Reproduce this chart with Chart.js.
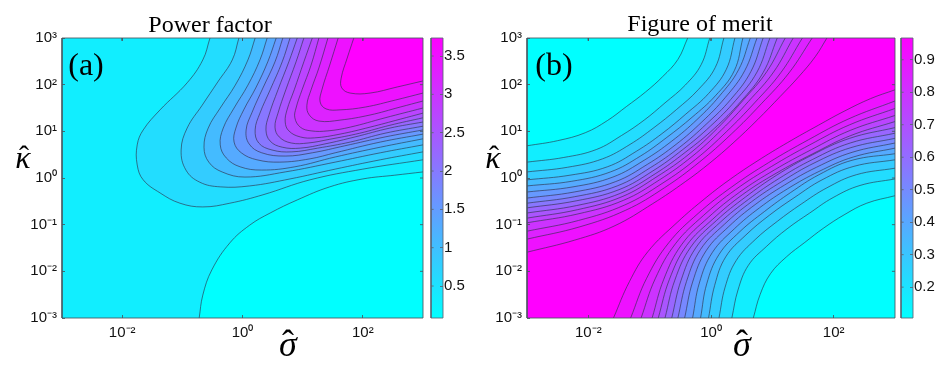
<!DOCTYPE html>
<html><head><meta charset="utf-8">
<style>
html,body{margin:0;padding:0;background:#fff;width:940px;height:365px;overflow:hidden}
.c{position:absolute;top:0}
canvas{display:block;filter:blur(0.35px)}
</style>
<script src="https://cdn.jsdelivr.net/npm/chart.js@4"></script>
</head><body>
<div class="c" style="left:0;width:428px;height:365px"><canvas id="pa" width="428" height="365"></canvas></div>
<div class="c" style="left:430px;width:40px;height:365px"><canvas id="ca" width="40" height="365"></canvas></div>
<div class="c" style="left:465px;width:435px;height:365px"><canvas id="pb" width="435" height="365"></canvas></div>
<div class="c" style="left:900px;width:40px;height:365px"><canvas id="cb" width="40" height="365"></canvas></div>
<script>
// All contour vertices are [log10(sigma), log10(kappa)].
const xTickExponents=[-2,0,2];
const yTickExponents=[-3,-2,-1,0,1,2,3];
const xTickLabels=['10⁻²','10⁰','10²'];
const yTickLabels=['10⁻³','10⁻²','10⁻¹','10⁰','10¹','10²','10³'];
const pfBarTicks=[0.5,1,1.5,2,2.5,3,3.5];
const pfBarRange=[0.083,3.735];
const fomBarTicks=[0.2,0.3,0.4,0.5,0.6,0.7,0.8,0.9];
const fomBarRange=[0.105,0.967];

// Power factor: contour 1 is the lower-right one, 2..15 are the nested U shapes.
const pf1=[[-.72,-3],[-.66,-2.51],[-.51,-1.97],[-.21,-1.39],[.12,-1.01],[.46,-.75],[.91,-.47],[1.45,-.19],[2,-.02],[2.53,.06],[3,.13]];
const pf2=[[-.54,3],[-.66,2.53],[-.92,2.04],[-1.37,1.46],[-1.65,1.03],[-1.75,.71],[-1.75,.28],[-1.65,-.04],[-1.37,-.32],[-1.04,-.54],[-.66,-.62],[-.21,-.54],[.34,-.36],[1.12,-.04],[2,.19],[3,.39]];
const pf3=[[-.06,3],[-.17,2.53],[-.41,2.06],[-.67,1.56],[-.92,1.07],[-1.02,.6],[-.94,.17],[-.71,-.09],[-.37,-.19],[.12,-.17],[.79,-.02],[1.54,.19],[2.29,.39],[3,.56]];
const pf4=[[.21,3],[.09,2.53],[-.12,1.99],[-.37,1.5],[-.57,1.07],[-.64,.66],[-.56,.34],[-.34,.13],[.04,.02],[.71,.13],[1.54,.34],[2.29,.54],[3,.71]];
const pf5=[[.41,3],[.29,2.53],[.09,1.99],[-.14,1.5],[-.32,1.07],[-.37,.71],[-.27,.43],[-.04,.24],[.32,.17],[.87,.24],[1.54,.45],[2.29,.66],[3,.84]];
const pf6=[[.56,3],[.42,2.49],[.22,1.93],[.02,1.46],[-.11,1.07],[-.14,.77],[-.02,.54],[.24,.39],[.62,.34],[1.12,.41],[1.54,.54],[2.29,.77],[3,.94]];
const pf7=[[.67,3],[.54,2.49],[.34,1.93],[.16,1.41],[.06,1.03],[.11,.73],[.32,.54],[.71,.47],[1.16,.54],[1.7,.69],[2.37,.88],[3,1.03]];
const pf8=[[.79,3],[.66,2.49],[.46,1.89],[.29,1.39],[.21,1.03],[.27,.75],[.49,.6],[.82,.56],[1.25,.64],[1.79,.77],[2.37,.96],[3,1.11]];
const pf9=[[.91,3],[.77,2.49],[.59,1.89],[.44,1.35],[.39,1.03],[.46,.79],[.66,.66],[.96,.64],[1.37,.73],[1.87,.88],[2.45,1.07],[3,1.2]];
const pf10=[[1.02,3],[.89,2.49],[.72,1.89],[.59,1.39],[.54,1.09],[.61,.88],[.81,.75],[1.09,.75],[1.45,.83],[1.95,.96],[2.45,1.13],[3,1.29]];
const pf11=[[1.16,3],[1.02,2.49],[.86,1.89],[.74,1.46],[.71,1.2],[.77,1.01],[.96,.88],[1.2,.86],[1.62,.94],[2.12,1.09],[2.62,1.26],[3,1.39]];
const pf12=[[1.27,3],[1.14,2.42],[.99,1.89],[.89,1.5],[.87,1.29],[.96,1.09],[1.14,1.01],[1.42,1.01],[1.79,1.09],[2.37,1.29],[3,1.5]];
const pf13=[[1.42,3],[1.27,2.36],[1.14,1.89],[1.07,1.56],[1.11,1.35],[1.27,1.22],[1.62,1.24],[2.12,1.35],[2.62,1.52],[3,1.65]];
const pf14=[[1.59,3],[1.45,2.42],[1.32,1.89],[1.29,1.63],[1.39,1.48],[1.62,1.46],[2.04,1.52],[2.54,1.67],[3,1.82]];
const pf15=[[1.85,3],[1.74,2.57],[1.64,2.14],[1.65,1.93],[1.79,1.82],[2.12,1.82],[2.57,1.95],[3,2.08]];

// Figure of merit: upper-left family, from the cyan corner inwards.
const fomU1=[[-3,.69],[-2.5,.8],[-2.05,.97],[-1.69,1.23],[-1.38,1.53],[-1.07,1.84],[-.79,2.17],[-.54,2.54],[-.38,3]];
const fomU2=[[-3,.34],[-2.4,.44],[-1.87,.61],[-1.46,.91],[-1.09,1.24],[-.75,1.61],[-.42,1.99],[-.16,2.43],[-.02,3]];
const fomU3=[[-3,.13],[-2.34,.23],[-1.77,.41],[-1.32,.72],[-.93,1.08],[-.56,1.47],[-.21,1.89],[.07,2.37],[.21,3]];
const fomU4=[[-3,-.04],[-2.3,.06],[-1.69,.24],[-1.22,.57],[-.8,.95],[-.41,1.37],[-.04,1.81],[.25,2.33],[.39,3]];
const fomU5=[[-3,-.17],[-2.27,-.07],[-1.64,.13],[-1.15,.47],[-.72,.87],[-.31,1.3],[.07,1.76],[.38,2.3],[.52,3]];
const fomU6=[[-3,-.3],[-2.25,-.19],[-1.6,.02],[-1.09,.38],[-.64,.79],[-.23,1.25],[.14,1.76],[.45,2.32],[.64,3]];
const fomU7=[[-3,-.43],[-2.23,-.3],[-1.56,-.08],[-1.04,.29],[-.57,.72],[-.15,1.2],[.23,1.72],[.55,2.3],[.75,3]];
const fomU8=[[-3,-.54],[-2.22,-.4],[-1.53,-.17],[-.99,.22],[-.51,.66],[-.08,1.15],[.32,1.68],[.65,2.28],[.85,3]];
const fomU9=[[-3,-.64],[-2.2,-.49],[-1.5,-.25],[-.95,.15],[-.46,.61],[-.01,1.11],[.4,1.66],[.75,2.27],[.96,3]];
const fomU10=[[-3,-.75],[-2.19,-.59],[-1.48,-.33],[-.91,.09],[-.41,.56],[.06,1.07],[.48,1.63],[.85,2.26],[1.08,3]];
const fomU11=[[-3,-.86],[-2.18,-.68],[-1.45,-.4],[-.88,.03],[-.36,.51],[.1,1.06],[.52,1.66],[.91,2.28],[1.21,3]];
const fomU12=[[-3,-.96],[-2.17,-.77],[-1.43,-.48],[-.84,-.04],[-.31,.46],[.17,1.03],[.61,1.64],[1.02,2.27],[1.34,3]];
const fomU13=[[-3,-1.14],[-2.16,-.91],[-1.41,-.58],[-.8,-.12],[-.25,.4],[.25,.99],[.71,1.61],[1.14,2.26],[1.49,3]];
const fomU14=[[-3,-1.31],[-2.15,-1.05],[-1.39,-.69],[-.76,-.21],[-.19,.34],[.33,.94],[.82,1.59],[1.27,2.25],[1.65,3]];
const fomU15=[[-3,-1.59],[-2.22,-1.33],[-1.58,-1.03],[-.95,-.55],[-.42,-.08],[-.02,.32],[.36,.75],[.76,1.25],[1.13,1.75],[1.43,2.17],[1.7,2.6],[1.89,3]];

// Figure of merit: lower-right family, from the cyan corner inwards.
const fomV1=[[.69,-3],[.8,-2.5],[.97,-2.05],[1.23,-1.69],[1.53,-1.38],[1.84,-1.07],[2.17,-.79],[2.54,-.54],[3,-.38]];
const fomV2=[[.34,-3],[.44,-2.4],[.61,-1.87],[.91,-1.46],[1.24,-1.09],[1.61,-.75],[1.99,-.42],[2.43,-.16],[3,-.02]];
const fomV3=[[.13,-3],[.23,-2.34],[.41,-1.77],[.72,-1.32],[1.08,-.93],[1.47,-.56],[1.89,-.21],[2.37,.07],[3,.21]];
const fomV4=[[-.04,-3],[.06,-2.3],[.24,-1.69],[.57,-1.22],[.95,-.8],[1.37,-.41],[1.81,-.04],[2.33,.25],[3,.39]];
const fomV5=[[-.17,-3],[-.07,-2.27],[.13,-1.64],[.47,-1.15],[.87,-.72],[1.3,-.31],[1.76,.07],[2.3,.38],[3,.52]];
const fomV6=[[-.3,-3],[-.19,-2.25],[.02,-1.6],[.38,-1.09],[.79,-.64],[1.25,-.23],[1.76,.14],[2.32,.45],[3,.64]];
const fomV7=[[-.43,-3],[-.3,-2.23],[-.08,-1.56],[.29,-1.04],[.72,-.57],[1.2,-.15],[1.72,.23],[2.3,.55],[3,.75]];
const fomV8=[[-.54,-3],[-.4,-2.22],[-.17,-1.53],[.22,-.99],[.66,-.51],[1.15,-.08],[1.68,.32],[2.28,.65],[3,.85]];
const fomV9=[[-.64,-3],[-.49,-2.2],[-.25,-1.5],[.15,-.95],[.61,-.46],[1.11,-.01],[1.66,.4],[2.27,.75],[3,.96]];
const fomV10=[[-.75,-3],[-.59,-2.19],[-.33,-1.48],[.09,-.91],[.56,-.41],[1.07,.06],[1.63,.48],[2.26,.85],[3,1.08]];
const fomV11=[[-.86,-3],[-.68,-2.18],[-.4,-1.45],[.03,-.88],[.51,-.36],[1.06,.1],[1.66,.52],[2.28,.91],[3,1.21]];
const fomV12=[[-.96,-3],[-.77,-2.17],[-.48,-1.43],[-.04,-.84],[.46,-.31],[1.03,.17],[1.64,.61],[2.27,1.02],[3,1.34]];
const fomV13=[[-1.14,-3],[-.91,-2.16],[-.58,-1.41],[-.12,-.8],[.4,-.25],[.99,.25],[1.61,.71],[2.26,1.14],[3,1.49]];
const fomV14=[[-1.31,-3],[-1.05,-2.15],[-.69,-1.39],[-.21,-.76],[.34,-.19],[.94,.33],[1.59,.82],[2.25,1.27],[3,1.65]];
const fomV15=[[-1.59,-3],[-1.33,-2.22],[-1.03,-1.58],[-.55,-.95],[-.08,-.42],[.32,-.02],[.75,.36],[1.25,.76],[1.75,1.13],[2.17,1.43],[2.6,1.7],[3,1.89]];

const BANDS=15, FAR=3.6, LINE='rgba(45,45,70,0.62)', AXIS='rgba(70,85,95,0.85)';
const cool=k=>`rgb(${Math.round(255*k/BANDS)},${Math.round(255-255*k/BANDS)},255)`;
const toXY=p=>({x:Math.pow(10,p[0]),y:Math.pow(10,p[1])});
const lineBase={type:'scatter',showLine:true,pointRadius:0,capBezierPoints:false};

function fillLayer(pts,corner,k){
  // closes a contour through a corner lying beyond the plot; the plot clip hides the closure
  const a=pts[0],b=pts[pts.length-1];
  const pad=v=>v>=3?FAR:v<=-3?-FAR:v;
  const closed=[...pts,[pad(b[0]),pad(b[1])],corner,[pad(a[0]),pad(a[1])]];
  return {...lineBase,data:closed.map(toXY),fill:'shape',backgroundColor:cool(k),borderWidth:0,tension:.4};
}
function lineLayer(pts){
  return {...lineBase,data:pts.map(toXY),fill:false,borderColor:LINE,borderWidth:1,tension:.4};
}
function baseLayer(k){
  return {...lineBase,data:[[-FAR,-FAR],[FAR,-FAR],[FAR,FAR],[-FAR,FAR]].map(toXY),fill:'shape',backgroundColor:cool(k),borderWidth:0,tension:0};
}
function frameLayers(){
  // plot frame plus the mirrored tick marks on the top and right sides
  const seg=(pts)=>({...lineBase,data:pts.map(toXY),fill:false,borderColor:AXIS,borderWidth:1,tension:0,clip:3});
  return [seg([[-3,-3],[3,-3],[3,3],[-3,3],[-3,-3]]),
    ...xTickExponents.map(e=>seg([[e,3],[e,2.94]])),
    ...yTickExponents.slice(1,-1).map(e=>seg([[3,e],[2.95,e]]))];
}

const textPlugin={id:'panelTexts',afterDraw(chart,args,opts){
  const c=chart.ctx;
  for(const t of opts.items||[]){
    c.save();c.font=t.font;c.fillStyle=t.color||'#000';c.textAlign='center';c.textBaseline='alphabetic';
    c.fillText(t.text,t.x,t.y);c.restore();
  }
}};
const tickFont={family:'"Liberation Sans",Arial,sans-serif',size:15};

function logAxis(pos,exps,labels,size,pad){
  const horizontal=pos==='bottom';
  return {type:'logarithmic',position:pos,min:1e-3,max:1e3,
    afterBuildTicks(s){s.ticks=exps.map(e=>({value:Math.pow(10,e),major:true}));},
    afterFit(s){if(horizontal)s.height=size;else s.width=size;},
    border:{display:false},
    grid:{drawOnChartArea:false,drawTicks:true,tickLength:-3,color:AXIS,z:1},
    ticks:{display:true,autoSkip:false,maxRotation:0,minRotation:0,padding:pad,color:'#111',font:tickFont,callback:(v,i)=>labels[i]}};
}
function plot(id,layers,items){
  new Chart(document.getElementById(id),{
    type:'scatter',
    data:{datasets:layers.slice().reverse()},
    plugins:[textPlugin],
    options:{responsive:false,animation:false,events:[],
      layout:{padding:{top:38,right:5,left:0,bottom:0}},
      plugins:{legend:{display:false},tooltip:{enabled:false},panelTexts:{items}},
      scales:{
        x:logAxis('bottom',xTickExponents,xTickLabels,47,9),
        y:logAxis('left',yTickExponents,yTickLabels,62,8)
      }}
  });
}
function colorbar(id,range,ticks){
  const [lo,hi]=range;
  const seg=pts=>({type:'scatter',showLine:true,pointRadius:0,fill:false,borderColor:'rgba(90,100,115,.85)',borderWidth:1,tension:0,clip:3,data:pts.map(p=>({x:p[0],y:p[1]}))});
  const bar={type:'scatter',showLine:true,pointRadius:0,borderWidth:0,tension:0,fill:'shape',
    data:[[0,lo],[1,lo],[1,hi],[0,hi]].map(p=>({x:p[0],y:p[1]})),
    backgroundColor(ctx){
      const a=ctx.chart.chartArea; if(!a) return '#0ff';
      const g=ctx.chart.ctx.createLinearGradient(0,a.bottom,0,a.top);
      g.addColorStop(0,'rgb(0,255,255)');g.addColorStop(1,'rgb(255,0,255)');return g;
    }};
  const layers=[bar,seg([[0,lo],[1,lo],[1,hi],[0,hi],[0,lo]]),...ticks.map(v=>seg([[0,v],[.22,v]]))];
  new Chart(document.getElementById(id),{
    type:'scatter',
    data:{datasets:layers.reverse()},
    options:{responsive:false,animation:false,events:[],
      layout:{padding:{top:38,left:1,right:0,bottom:47}},
      plugins:{legend:{display:false},tooltip:{enabled:false}},
      scales:{
        x:{type:'linear',display:false,min:0,max:1},
        y:{type:'linear',position:'right',min:lo,max:hi,
          afterBuildTicks(s){s.ticks=ticks.map(v=>({value:v}));},
          afterFit(s){s.width=27;},
          border:{display:false},
          grid:{drawOnChartArea:false,drawTicks:true,tickLength:-3,color:'rgba(90,100,115,.85)',z:1},
          ticks:{display:true,autoSkip:false,padding:4,color:'#111',font:tickFont,callback:v=>String(v)}}
      }}
  });
}

const pfLevels=[pf2,pf3,pf4,pf5,pf6,pf7,pf8,pf9,pf10,pf11,pf12,pf13,pf14,pf15];
const pfLayers=[baseLayer(1),fillLayer(pf1,[FAR,-FAR],0),
  ...pfLevels.map((c,i)=>fillLayer(c,[FAR,FAR],i+2)),
  lineLayer(pf1),...pfLevels.map(lineLayer),...frameLayers()];

const fomU=[fomU15,fomU14,fomU13,fomU12,fomU11,fomU10,fomU9,fomU8,fomU7,fomU6,fomU5,fomU4,fomU3,fomU2,fomU1];
const fomV=[fomV15,fomV14,fomV13,fomV12,fomV11,fomV10,fomV9,fomV8,fomV7,fomV6,fomV5,fomV4,fomV3,fomV2,fomV1];
const fomLayers=[baseLayer(15),
  ...fomU.map((c,i)=>fillLayer(c,[-FAR,FAR],14-i)),
  ...fomV.map((c,i)=>fillLayer(c,[FAR,-FAR],14-i)),
  ...fomU.map(lineLayer),...fomV.map(lineLayer),...frameLayers()];

const serif='"Liberation Serif","Times New Roman",serif';
plot('pa',pfLayers,[
  {text:'Power factor',x:210,y:32,font:`24px ${serif}`},
  {text:'(a)',x:86,y:75,font:`32px ${serif}`},
  {text:'σ',x:288,y:356,font:`italic 36px ${serif}`},
  {text:'ˆ',x:288,y:355,font:`36px ${serif}`},
  {text:'κ',x:23,y:168,font:`italic 32px ${serif}`},
  {text:'ˆ',x:24,y:166,font:`30px ${serif}`}
]);
plot('pb',fomLayers,[
  {text:'Figure of merit',x:235,y:31,font:`24px ${serif}`},
  {text:'(b)',x:89,y:75,font:`32px ${serif}`},
  {text:'σ',x:277,y:356,font:`italic 36px ${serif}`},
  {text:'ˆ',x:277,y:355,font:`36px ${serif}`},
  {text:'κ',x:28,y:168,font:`italic 32px ${serif}`},
  {text:'ˆ',x:29,y:166,font:`30px ${serif}`}
]);
colorbar('ca',pfBarRange,pfBarTicks);
colorbar('cb',fomBarRange,fomBarTicks);
</script>
</body></html>
